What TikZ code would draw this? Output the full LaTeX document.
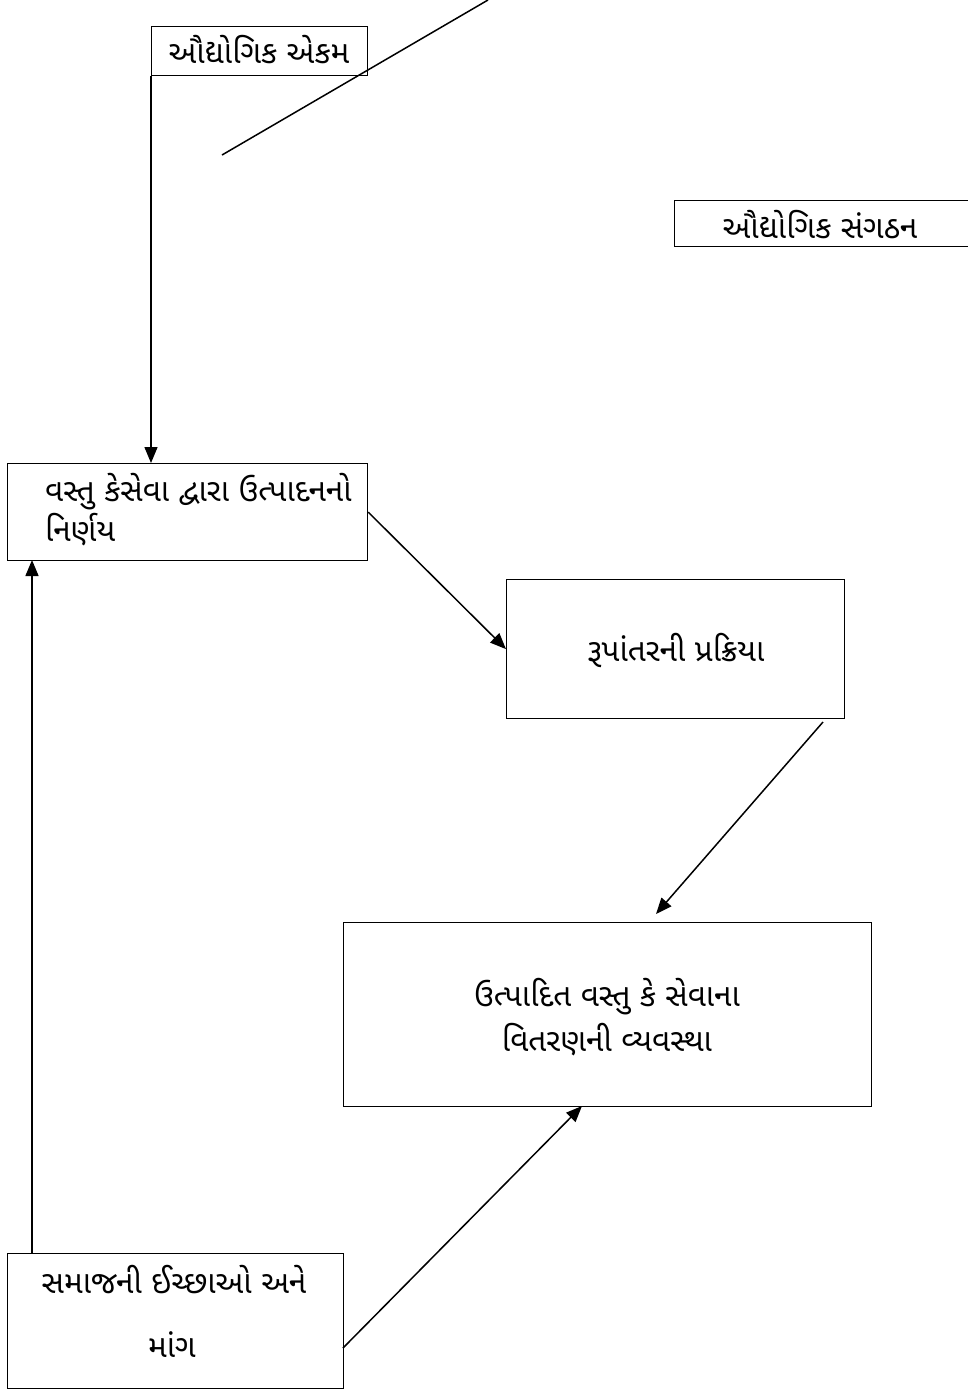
\documentclass[tikz,border=0pt]{standalone}
\usepackage{fontspec}
\newfontfamily\guj[Script=Gujarati]{Noto Sans Gujarati UI}
\usetikzlibrary{arrows.meta,positioning}
\begin{document}
\begin{tikzpicture}[x=1pt,y=-1pt,
  box/.style={draw,line width=1.2pt,rectangle,inner sep=0pt,anchor=north west},
  txt/.style={font=\guj\fontsize{31.5}{38}\selectfont,inner sep=0pt},
  arr/.style={line width=1.5pt,-{Triangle[length=16pt,width=13pt]}},
  ln/.style={line width=1.5pt}]
\useasboundingbox (0,0) rectangle (968,1390);
% boxes
\node[box,minimum width=216pt,minimum height=49pt] (b1) at (151,26) {};
\node[box,minimum width=294pt,minimum height=46pt] (b2) at (674,200) {};
\node[box,minimum width=360pt,minimum height=97pt] (b3) at (7,463) {};
\node[box,minimum width=338pt,minimum height=139pt] (b4) at (506,579) {};
\node[box,minimum width=528pt,minimum height=184pt] (b5) at (343,922) {};
\node[box,minimum width=336pt,minimum height=135pt] (b6) at (7,1253) {};
% texts
\node[txt] (t1) at (259,50) {ઔદ્યોગિક એકમ};
\node[txt] (t2) at (820,225) {ઔદ્યોગિક સંગઠન};
\node[txt,anchor=west] (t3a) at (45,492) {વસ્તુ કેસેવા દ્વારા ઉત્પાદનનો};
\node[txt,anchor=west] (t3b) at (45,530) {નિર્ણય};
\node[txt] (t4) at (676,650) {રૂપાંતરની પ્રક્રિયા};
\node[txt] (t5a) at (607,997) {ઉત્પાદિત વસ્તુ કે સેવાના};
\node[txt] (t5b) at (607,1040) {વિતરણની વ્યવસ્થા};
\node[txt] (t6a) at (174,1280) {સમાજની ઈચ્છાઓ અને};
\node[txt] (t6b) at (172,1345) {માંગ};
% free-end coordinates
\coordinate (l1a) at (488,0);
\coordinate (l1b) at (222,155);
\coordinate (a3s) at (823,722);
\coordinate (a3e) at (656,914);
\coordinate (a4s) at (343,1348);
\coordinate (a4e) at (582,1106);
\coordinate (a5s) at (32,1253);
\coordinate (a5e) at (32,560);
% connectors
\draw[ln] (l1a) -- (l1b);
\draw[arr] (b1.south west) -- (b1.south west |- b3.north);
\draw[arr] (b3.east) -- (b4.west);
\draw[arr] (a3s) -- (a3e);
\draw[arr] (a4s) -- (a4e);
\draw[arr] (a5s) -- (a5e);
\end{tikzpicture}
\end{document}
